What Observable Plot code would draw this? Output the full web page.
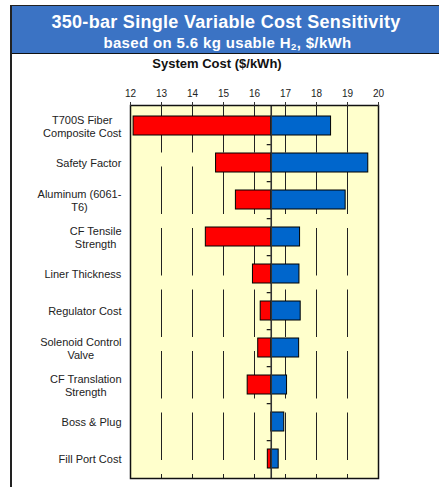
<!DOCTYPE html>
<html>
<head>
<meta charset="utf-8">
<script src="https://cdn.jsdelivr.net/npm/d3@7"></script>
<script src="https://cdn.jsdelivr.net/npm/@observablehq/plot@0.6"></script>
<style>
  html, body { margin: 0; padding: 0; background: #fff; }
  body { width: 439px; height: 487px; overflow: hidden; position: relative; font-family: "Liberation Sans", Arial, sans-serif; }
  #leftline { position: absolute; left: 10px; top: 5px; width: 1.5px; height: 482px; background: #222; z-index: 3; }
  #header { position: absolute; left: 10px; top: 5px; width: 429px; height: 47px; background: #3B73C4; border-top: 1.5px solid #222; border-bottom: 1.5px solid #111; z-index: 2; color: #fff; font-weight: bold; text-align: center; }
  #title { position: absolute; left: 0; width: 429px; top: 6.5px; font-size: 18px; letter-spacing: 0.3px; line-height: 18px; white-space: nowrap; text-align: center; padding-left: 3px; box-sizing: border-box; }
  #subtitle { position: absolute; left: 0; width: 429px; top: 29px; font-size: 15px; letter-spacing: 0.35px; line-height: 15px; white-space: nowrap; text-align: center; padding-left: 6px; box-sizing: border-box; }
  #subtitle sub { font-size: 9.5px; vertical-align: -2px; line-height: 0; }
  #axtitle { position: absolute; left: 0; width: 434px; top: 56.5px; font-size: 13px; line-height: 13px; font-weight: bold; text-align: center; color: #111; z-index: 2; }
  #chart { position: absolute; left: 0; top: 53px; }
</style>
</head>
<body>
<div id="chart"></div>
<div id="header"><div id="title">350-bar Single Variable Cost Sensitivity</div><div id="subtitle">based on 5.6 kg usable H<sub>2</sub>, $/kWh</div></div>
<div id="leftline"></div>
<div id="axtitle">System Cost ($/kWh)</div>
<script>
const categories = [
  "T700S Fiber\nComposite Cost",
  "Safety Factor",
  "Aluminum (6061-\nT6)",
  "CF Tensile\nStrength",
  "Liner Thickness",
  "Regulator Cost",
  "Solenoid Control\nValve",
  "CF Translation\nStrength",
  "Boss & Plug",
  "Fill Port Cost"
];
const lowValues  = [12.10, 14.76, 15.40, 14.43, 15.95, 16.20, 16.12, 15.78, 16.54, 16.43];
const highValues = [18.47, 19.67, 18.94, 17.47, 17.45, 17.49, 17.44, 17.05, 16.96, 16.78];
const baseline = 16.54;
const xTicks = [12, 13, 14, 15, 16, 17, 18, 19, 20];
const gridTicks = [13, 14, 15, 16, 17, 18, 19];

const rows = categories.map((c, i) => ({cat: c, low: lowValues[i], high: highValues[i]}));

const W = 439, H = 434, mT = 52, mB = 9, mL = 130, mR = 61;
const step = (H - mT - mB) / (categories.length - 0.5 + 0.5);
const font = '"Liberation Sans", Arial, sans-serif';

const chart = Plot.plot({
  width: W, height: H,
  marginTop: mT, marginBottom: mB, marginLeft: mL, marginRight: mR,
  style: {fontFamily: font, background: "transparent", overflow: "visible"},
  x: {domain: [12, 20]},
  y: {domain: categories, paddingInner: 0.5, paddingOuter: 0.25},
  marks: [
    Plot.frame({fill: "#FFFFCC"}),
    Plot.ruleX(gridTicks, {stroke: "#222", strokeWidth: 1, strokeDasharray: "47.5,14"}),
    Plot.barX(rows, {y: "cat", x1: "low", x2: baseline, fill: "#FF0000", stroke: "#000", strokeWidth: 1}),
    Plot.barX(rows, {y: "cat", x1: baseline, x2: "high", fill: "#0066CC", stroke: "#000", strokeWidth: 1}),
    Plot.ruleX([baseline], {stroke: "#333", strokeWidth: 1.6}),
    Plot.ruleY(categories.slice(0, -1), {y: d => d, x1: baseline - 0.13, x2: baseline, dy: step / 2, stroke: "#111", strokeWidth: 1.2}),
    Plot.frame({stroke: "#111", strokeWidth: 1.5}),
    Plot.axisX(xTicks, {anchor: "top", tickSize: 4, tickPadding: 5, fontSize: 10, color: "#222", label: null, stroke: "#333"}),
    Plot.axisY({anchor: "left", tickSize: 0, tickPadding: 9, fontSize: 11, lineHeight: 1.27, label: null, color: "#222"})
  ]
});
document.getElementById("chart").appendChild(chart);

// centre multi-line category labels within their right-aligned block
chart.querySelectorAll('g[aria-label="y-axis tick label"] text').forEach(t => {
  const w = t.getBBox().width;
  t.setAttribute("text-anchor", "middle");
  const tr = t.getAttribute("transform") || "";
  t.setAttribute("transform", tr + ` translate(${-w / 2},0)`);
});
</script>
</body>
</html>
